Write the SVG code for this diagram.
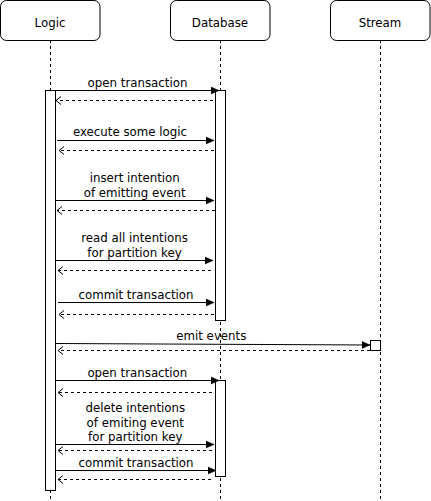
<svg xmlns="http://www.w3.org/2000/svg" width="431" height="501" viewBox="0 0 431 501">
<style>
.hdr{fill:#fff;stroke:#000;stroke-width:1}
.life{stroke:#000;stroke-width:1;stroke-dasharray:3,3;fill:none}
.act{fill:#fff;stroke:#000;stroke-width:1}
.msg{stroke:#000;stroke-width:1;fill:none;marker-end:url(#block)}
.ret{stroke:#000;stroke-width:1;fill:none;stroke-dasharray:3,3;marker-end:url(#open)}
text{font-family:"DejaVu Sans","Liberation Sans",sans-serif;font-size:11.8px;fill:#000;text-anchor:middle}
</style>
<defs>
<marker id="block" markerUnits="userSpaceOnUse" markerWidth="9" markerHeight="9" refX="8" refY="4.5" orient="auto">
<path d="M0,1 L8,4.5 L0,8 z" fill="#000" stroke="#000" stroke-width="0.5"/>
</marker>
<marker id="open" markerUnits="userSpaceOnUse" markerWidth="9" markerHeight="10" refX="6" refY="5" orient="auto">
<path d="M1,1 L6,5 L1,9" fill="none" stroke="#000" stroke-width="1"/>
</marker>
</defs>

<g id="lifelines">
<line class="life" x1="50.5" y1="40" x2="50.5" y2="501"/>
<line class="life" x1="220.5" y1="40" x2="220.5" y2="501"/>
<line class="life" x1="380.5" y1="40" x2="380.5" y2="501"/>
</g>

<g id="logic">
<rect class="hdr" x="0.5" y="0.5" width="99.5" height="40" rx="6"/>
<text x="50" y="27">Logic</text>
</g>
<g id="database">
<rect class="hdr" x="170.5" y="0.5" width="99.5" height="40" rx="6"/>
<text x="220" y="27">Database</text>
</g>
<g id="stream">
<rect class="hdr" x="330.5" y="0.5" width="99.5" height="40" rx="6"/>
<text x="380" y="27">Stream</text>
</g>

<g id="activations">
<rect id="logic-act" class="act" x="45.5" y="90.5" width="10" height="400"/>
<rect id="db-act-1" class="act" x="215.5" y="90.5" width="10" height="230"/>
<rect id="db-act-2" class="act" x="215.5" y="380.5" width="10" height="96"/>
<rect id="stream-act" class="act" x="370.5" y="340.5" width="10" height="10"/>
</g>

<g id="connectors">
<line class="msg" x1="55.5" y1="90.5" x2="219" y2="90.5"/>
<line class="ret" x1="213" y1="100.5" x2="56" y2="100.5"/>
<line class="msg" x1="57" y1="140.5" x2="214" y2="140.5"/>
<line class="ret" x1="214" y1="150.5" x2="59" y2="150.5"/>
<line class="msg" x1="56" y1="200.5" x2="214" y2="200.5"/>
<line class="ret" x1="215" y1="210.5" x2="57" y2="210.5"/>
<line class="msg" x1="56" y1="260.5" x2="213" y2="260.5"/>
<line class="ret" x1="211" y1="270.5" x2="58" y2="270.5"/>
<line class="msg" x1="58" y1="302.5" x2="214" y2="302.5"/>
<line class="ret" x1="214" y1="314.5" x2="59" y2="314.5"/>
<line class="msg" x1="55.5" y1="343.5" x2="370" y2="345"/>
<line class="ret" x1="370" y1="350.5" x2="58" y2="350.5"/>
<line class="msg" x1="55.5" y1="380.5" x2="219" y2="380.5"/>
<line class="ret" x1="212" y1="392.5" x2="58" y2="392.5"/>
<line class="msg" x1="55.5" y1="444.5" x2="214" y2="444.5"/>
<line class="ret" x1="212" y1="450.5" x2="58" y2="450.5"/>
<line class="msg" x1="55.5" y1="470.5" x2="216" y2="470.5"/>
<line class="ret" x1="211" y1="479.5" x2="58" y2="479.5"/>
</g>

<g id="labels">
<text x="137.5" y="86.5">open transaction</text>
<text x="130" y="135.5">execute some logic</text>
<text x="134.7" y="181.5">insert intention</text>
<text x="134.7" y="196.5">of emitting event</text>
<text x="134.5" y="241.5">read all intentions</text>
<text x="134.5" y="256.5">for partition key</text>
<text x="136" y="298.5">commit transaction</text>
<text x="211.3" y="340">emit events</text>
<text x="137.3" y="376.5">open transaction</text>
<text x="135.3" y="411.5">delete intentions</text>
<text x="135.3" y="426.5">of emiting event</text>
<text x="135.3" y="441">for partition key</text>
<text x="136" y="466.5">commit transaction</text>
</g>
</svg>
